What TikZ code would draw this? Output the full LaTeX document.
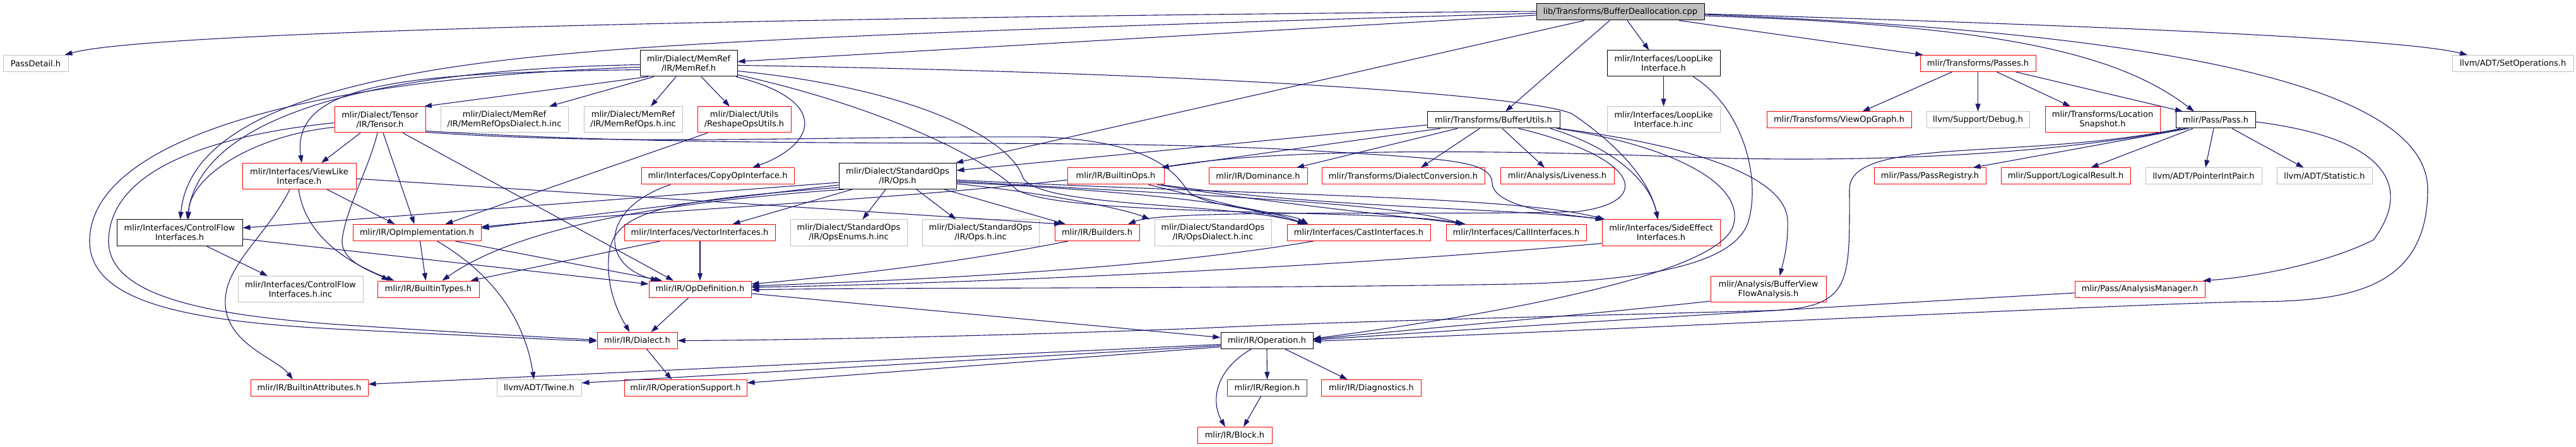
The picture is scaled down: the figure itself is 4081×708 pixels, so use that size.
\documentclass[tikz,border=0pt]{standalone}
\usepackage{fontspec}
\newfontfamily\djv{DejaVu Sans}
\usetikzlibrary{arrows.meta}
\definecolor{eblue}{HTML}{191970}
\definecolor{nred}{HTML}{FF0000}
\definecolor{ngrey}{HTML}{BFBFBF}
\begin{document}
\begin{tikzpicture}[x=1pt,y=-1pt,
  nb/.style={draw, line width=1pt, fill=white, inner xsep=2pt, inner ysep=0pt, align=center,
             font={\djv\fontsize{13pt}{15pt}\selectfont}, minimum height=26pt},
  two/.style={minimum height=41pt},
  rn/.style={nb, draw=nred},
  gn/.style={nb, draw=ngrey},
  kn/.style={nb, draw=black},
  rootn/.style={nb, draw=black, fill=ngrey},
  dep/.style={draw=eblue, line width=1.1pt, -{Triangle[length=12pt,width=8pt]}}
]
\useasboundingbox (0,0) rectangle (4081,708);

% row 0
\node[rootn, minimum width=266pt] (root) at (2567,19) {lib/Transforms/BufferDeallocation.cpp};
% row 1
\node[gn, minimum width=103pt] (passdetail) at (56.5,100.5) {PassDetail.h};
\node[kn, two, minimum width=154pt] (memref) at (1091,100.5) {mlir/Dialect/MemRef\\/IR/MemRef.h};
\node[kn, two, minimum width=179pt] (looplike) at (2635.5,100.5) {mlir/Interfaces/LoopLike\\Interface.h};
\node[rn, minimum width=183pt] (passes) at (3133.5,100.5) {mlir/Transforms/Passes.h};
\node[gn, minimum width=192pt] (setops) at (3981,100.5) {llvm/ADT/SetOperations.h};
% row 2
\node[rn, two, minimum width=144pt] (tensor) at (602,189.5) {mlir/Dialect/Tensor\\/IR/Tensor.h};
\node[gn, two, minimum width=202pt] (memrefdialinc) at (799,189.5) {mlir/Dialect/MemRef\\/IR/MemRefOpsDialect.h.inc};
\node[gn, two, minimum width=156pt] (memrefopsinc) at (1003,189.5) {mlir/Dialect/MemRef\\/IR/MemRefOps.h.inc};
\node[rn, two, minimum width=148pt] (reshape) at (1179,189.5) {mlir/Dialect/Utils\\/ReshapeOpsUtils.h};
\node[kn, minimum width=210pt] (bufferutils) at (2366,190) {mlir/Transforms/BufferUtils.h};
\node[gn, two, minimum width=179pt] (looplikeinc) at (2635.5,189.5) {mlir/Interfaces/LoopLike\\Interface.h.inc};
\node[rn, minimum width=229pt] (viewopgraph) at (2913.5,190) {mlir/Transforms/ViewOpGraph.h};
\node[gn, minimum width=163pt] (debug) at (3133.5,190) {llvm/Support/Debug.h};
\node[rn, two, minimum width=182pt] (locsnap) at (3331,189.5) {mlir/Transforms/Location\\Snapshot.h};
\node[kn, minimum width=126pt] (pass) at (3510,190) {mlir/Pass/Pass.h};
% row 3
\node[rn, two, minimum width=180pt] (viewlike) at (474,279) {mlir/Interfaces/ViewLike\\Interface.h};
\node[rn, minimum width=242pt] (copyop) at (1137,279) {mlir/Interfaces/CopyOpInterface.h};
\node[kn, two, minimum width=186pt] (ops) at (1422,279) {mlir/Dialect/StandardOps\\/IR/Ops.h};
\node[rn, minimum width=153pt] (builtinops) at (1767.5,279) {mlir/IR/BuiltinOps.h};
\node[rn, minimum width=156pt] (dominance) at (1993,279) {mlir/IR/Dominance.h};
\node[rn, minimum width=258pt] (dialconv) at (2223,279) {mlir/Transforms/DialectConversion.h};
\node[rn, minimum width=180pt] (liveness) at (2467,279) {mlir/Analysis/Liveness.h};
\node[rn, minimum width=177pt] (passreg) at (3057.5,279) {mlir/Pass/PassRegistry.h};
\node[rn, minimum width=205pt] (logical) at (3272.5,279) {mlir/Support/LogicalResult.h};
\node[gn, minimum width=184pt] (pip) at (3491,279) {llvm/ADT/PointerIntPair.h};
\node[gn, minimum width=151pt] (statistic) at (3682.5,279) {llvm/ADT/Statistic.h};
% row 4
\node[kn, two, minimum width=199pt] (cfi) at (284.5,368.5) {mlir/Interfaces/ControlFlow\\Interfaces.h};
\node[rn, minimum width=203pt] (opimpl) at (660.5,368.5) {mlir/IR/OpImplementation.h};
\node[rn, minimum width=239pt] (vector) at (1108.5,368.5) {mlir/Interfaces/VectorInterfaces.h};
\node[gn, two, minimum width=185pt] (opsenums) at (1344.5,368.5) {mlir/Dialect/StandardOps\\/IR/OpsEnums.h.inc};
\node[gn, two, minimum width=185pt] (opsinc) at (1553.5,368.5) {mlir/Dialect/StandardOps\\/IR/Ops.h.inc};
\node[rn, minimum width=134pt] (builders) at (1738,368.5) {mlir/IR/Builders.h};
\node[gn, two, minimum width=185pt] (opsdialinc) at (1921.5,368.5) {mlir/Dialect/StandardOps\\/IR/OpsDialect.h.inc};
\node[rn, minimum width=227pt] (cast) at (2152.5,368.5) {mlir/Interfaces/CastInterfaces.h};
\node[rn, minimum width=222pt] (call) at (2402,368.5) {mlir/Interfaces/CallInterfaces.h};
\node[rn, two, minimum width=187pt] (sideeffect) at (2631.5,368.5) {mlir/Interfaces/SideEffect\\Interfaces.h};
% row 5
\node[gn, two, minimum width=198pt] (cfiinc) at (476,458) {mlir/Interfaces/ControlFlow\\Interfaces.h.inc};
\node[rn, minimum width=161pt] (builtintypes) at (678.5,458) {mlir/IR/BuiltinTypes.h};
\node[rn, minimum width=162pt] (opdef) at (1109,458) {mlir/IR/OpDefinition.h};
\node[rn, two, minimum width=183pt] (bvfa) at (2801.5,458) {mlir/Analysis/BufferView\\FlowAnalysis.h};
\node[rn, minimum width=206pt] (analysismgr) at (3390,458) {mlir/Pass/AnalysisManager.h};
% row 6
\node[rn, minimum width=127pt] (dialect) at (1009.5,539.5) {mlir/IR/Dialect.h};
\node[kn, minimum width=146pt] (operation) at (2007,539.5) {mlir/IR/Operation.h};
% row 7
\node[rn, minimum width=186pt] (builtinattr) at (490,614.5) {mlir/IR/BuiltinAttributes.h};
\node[gn, minimum width=134pt] (twine) at (854,614.5) {llvm/ADT/Twine.h};
\node[rn, minimum width=194pt] (opsupport) at (1086,614.5) {mlir/IR/OperationSupport.h};
\node[nb, draw=black!75, minimum width=126pt] (region) at (2007.5,614.5) {mlir/IR/Region.h};
\node[rn, minimum width=158pt] (diagnostics) at (2172.5,614.5) {mlir/IR/Diagnostics.h};
% row 8
\node[rn, minimum width=118pt] (block) at (1956,689.5) {mlir/IR/Block.h};

% ---- edges from root
\draw[dep] ([yshift=1pt]root.west) .. controls (1500,25) and (250,45) .. ([xshift=46pt]passdetail.north);
\draw[dep] ([yshift=-5pt]root.west) -- ([yshift=3pt]memref.east);
\draw[dep] ([yshift=-2pt]root.west) .. controls (1600,45) and (1150,62) .. (900,85) .. controls (500,120) and (300,200) .. ([xshift=1pt]cfi.north);
\draw[dep] ([xshift=-57pt]root.south) -- ([xshift=92pt]ops.north);
\draw[dep] ([xshift=-17pt]root.south) -- ([xshift=19pt]bufferutils.north);
\draw[dep] ([xshift=11pt]root.south) -- ([xshift=-23pt]looplike.north);
\draw[dep] ([xshift=93pt]root.south) -- ([xshift=-87pt]passes.north);
\draw[dep] ([yshift=-6pt]root.east) .. controls (3150,40) and (3350,80) .. ([xshift=-34pt]pass.north);
\draw[dep] ([yshift=-3pt]root.east) .. controls (3300,40) and (3800,60) .. ([xshift=-72pt]setops.north);
\draw[dep] ([yshift=-4pt]root.east) .. controls (3400,50) and (3846,130) .. (3846,300) .. controls (3846,470) and (3700,478) .. (3550,478) .. controls (3300,485) and (2500,525) .. ([yshift=-1pt]operation.east);

% ---- MemRef.h
\draw[dep] ([xshift=-64pt]memref.south) -- ([xshift=70pt]tensor.north);
\draw[dep] ([xshift=-55pt]memref.south) -- ([xshift=71pt]memrefdialinc.north);
\draw[dep] ([xshift=-20pt]memref.south) -- ([xshift=28pt]memrefopsinc.north);
\draw[dep] ([xshift=20pt]memref.south) -- ([xshift=-23pt]reshape.north);
\draw[dep] ([xshift=75pt]memref.south) .. controls (1320,160) and (1290,230) .. ([xshift=55pt]copyop.north);
\draw[dep] ([yshift=-10pt]memref.west) .. controls (650,115) and (460,130) .. ([xshift=4pt]viewlike.north);
\draw[dep] ([yshift=-2pt]memref.west) .. controls (600,110) and (320,180) .. ([xshift=12pt]cfi.north);
\draw[dep] ([yshift=-6pt]memref.west) .. controls (450,125) and (145,230) .. (142,380) .. controls (140,480) and (300,510) .. (550,522) .. controls (750,532) and (880,538) .. ([yshift=-1pt]dialect.west);
\draw[dep] ([yshift=-3pt]memref.east) .. controls (1900,115) and (2420,150) .. (2490,180) .. controls (2535,210) and (2610,270) .. ([xshift=-5pt]sideeffect.north);
\draw[dep] ([yshift=-12pt]memref.east) .. controls (1450,140) and (1600,220) .. (1620,280) .. controls (1640,330) and (1950,320) .. ([xshift=-84pt]cast.north);
\draw[dep] ([yshift=-18pt]memref.east) .. controls (1400,170) and (1560,250) .. (1610,300) .. controls (1680,345) and (2200,330) .. ([xshift=-84pt]call.north);

% ---- Tensor.h
\draw[dep] ([xshift=-31pt]tensor.south) -- ([xshift=35pt]viewlike.north);
\draw[dep] ([xshift=-4pt]tensor.south) .. controls (585,265) and (548,330) .. (542,380) .. controls (540,415) and (590,430) .. ([xshift=-62pt]builtintypes.north);
\draw[dep] ([xshift=5pt]tensor.south) -- ([xshift=-4pt]opimpl.north);
\draw[dep] ([xshift=36pt]tensor.south) -- ([xshift=-42pt]opdef.north);
\draw[dep] ([yshift=-12pt]tensor.west) .. controls (400,215) and (300,280) .. ([xshift=14pt]cfi.north);
\draw[dep] ([yshift=-5pt]tensor.west) .. controls (330,215) and (175,270) .. (172,380) .. controls (170,470) and (330,500) .. (550,515) .. controls (750,528) and (880,535) .. ([yshift=1pt]dialect.west);
\draw[dep] ([yshift=-20pt]tensor.east) .. controls (1000,232) and (1300,215) .. (1657,217) .. controls (1820,225) and (1860,270) .. (1880,300) .. controls (1900,330) and (2040,335) .. ([xshift=-80pt]cast.north);
\draw[dep] ([yshift=-18pt]tensor.east) .. controls (1200,240) and (1700,215) .. (2100,240) .. controls (2300,252) and (2362,255) .. (2364,290) .. controls (2366,330) and (2480,340) .. ([xshift=-89pt]sideeffect.north);

% ---- ViewLikeInterface.h
\draw[dep] ([xshift=-15pt]viewlike.south) .. controls (420,380) and (340,430) .. (360,500) .. controls (375,550) and (440,570) .. ([xshift=-26pt]builtinattr.north);
\draw[dep] ([xshift=-1pt]viewlike.south) .. controls (485,380) and (560,420) .. ([xshift=-54pt]builtintypes.north);
\draw[dep] ([xshift=44pt]viewlike.south) -- ([xshift=-35pt]opimpl.north);
\draw[dep] ([yshift=-4pt]viewlike.east) -- ([xshift=-56pt]builders.north);

% ---- CopyOpInterface.h, ReshapeOpsUtils.h
\draw[dep] ([xshift=-75pt]copyop.south) .. controls (950,330) and (950,420) .. ([xshift=-66pt]opdef.north);
\draw[dep] ([xshift=-58pt]reshape.south) -- ([xshift=45pt]opimpl.north);

% ---- StandardOps/IR/Ops.h
\draw[dep] ([yshift=-10pt]ops.west) -- ([yshift=7.5pt]cfi.east);
\draw[dep] ([yshift=-14pt]ops.west) -- ([yshift=7pt]opimpl.east);
\draw[dep] ([xshift=-72pt]ops.south) -- ([xshift=52pt]vector.north);
\draw[dep] ([yshift=-18pt]ops.west) .. controls (1050,318) and (975,335) .. (965,400) .. controls (958,460) and (985,505) .. ([xshift=-12pt]dialect.north);
\draw[dep] ([xshift=-85pt]ops.south) .. controls (1050,320) and (820,360) .. ([xshift=22pt]builtintypes.north);
\draw[dep] ([xshift=74pt]ops.south) -- ([xshift=-50pt]builders.north);
\draw[dep] ([xshift=-19pt]ops.south) -- ([xshift=22pt]opsenums.north);
\draw[dep] ([xshift=30pt]ops.south) -- ([xshift=-39pt]opsinc.north);
\draw[dep] ([yshift=-12pt]ops.east) .. controls (1650,305) and (1780,330) .. ([xshift=-100pt]opsdialinc.north);
\draw[dep] ([yshift=-10pt]ops.east) .. controls (1750,300) and (1980,320) .. ([xshift=-85pt]cast.north);
\draw[dep] ([yshift=-8pt]ops.east) .. controls (1900,310) and (2200,320) .. ([xshift=-84pt]call.north);
\draw[dep] ([yshift=-6pt]ops.east) .. controls (2000,310) and (2400,310) .. ([xshift=-89pt]sideeffect.north);

% ---- BuiltinOps.h
\draw[dep] ([yshift=-6pt]builtinops.west) .. controls (1400,318) and (1000,335) .. ([yshift=9pt]opimpl.east);
\draw[dep] ([xshift=52pt]builtinops.south) -- ([xshift=-80pt]cast.north);
\draw[dep] ([xshift=66pt]builtinops.south) .. controls (2000,320) and (2200,340) .. ([xshift=-80pt]call.north);
\draw[dep] ([xshift=72pt]builtinops.south) .. controls (2100,330) and (2400,330) .. ([xshift=-92pt]sideeffect.north);

% ---- BufferUtils.h
\draw[dep] ([yshift=-8pt]bufferutils.west) -- ([yshift=9pt]ops.east);
\draw[dep] ([xshift=-84pt]bufferutils.south) -- ([xshift=72pt]builtinops.north);
\draw[dep] ([xshift=-57pt]bufferutils.south) -- ([xshift=61pt]dominance.north);
\draw[dep] ([xshift=-22pt]bufferutils.south) -- ([xshift=28pt]dialconv.north);
\draw[dep] ([xshift=14pt]bufferutils.south) -- ([xshift=-20pt]liveness.north);
\draw[dep] ([xshift=40pt]bufferutils.south) .. controls (2600,250) and (2620,320) .. (2500,335) .. controls (2300,342) and (1850,330) .. ([xshift=49pt]builders.north);
\draw[dep] ([xshift=100pt]bufferutils.south) .. controls (2640,228) and (2770,290) .. (2745,360) .. controls (2720,420) and (2500,480) .. ([yshift=3pt]operation.east);
\draw[dep] ([xshift=104pt]bufferutils.south) .. controls (2640,225) and (2830,270) .. (2832,350) .. controls (2833,390) and (2825,415) .. ([xshift=18pt]bvfa.north);
\draw[dep] ([xshift=90pt]bufferutils.south) .. controls (2560,235) and (2615,290) .. ([xshift=-5pt]sideeffect.north);

% ---- LoopLikeInterface.h
\draw[dep] (looplike.south) -- (looplikeinc.north);
\draw[dep] ([xshift=47pt]looplike.south) .. controls (2760,170) and (2790,280) .. (2770,350) .. controls (2750,420) and (2600,445) .. (2400,450) .. controls (1900,458) and (1400,455) .. ([yshift=-1pt]opdef.east);

% ---- Passes.h
\draw[dep] ([xshift=-41pt]passes.south) -- ([xshift=37pt]viewopgraph.north);
\draw[dep] (passes.south) -- (debug.north);
\draw[dep] ([xshift=30pt]passes.south) -- ([xshift=-51pt]locsnap.north);
\draw[dep] ([xshift=60pt]passes.south) -- ([xshift=-52pt]pass.north);

% ---- Pass.h
\draw[dep] ([xshift=-43pt]pass.south) -- ([xshift=68pt]passreg.north);
\draw[dep] ([xshift=-36pt]pass.south) -- ([xshift=40pt]logical.north);
\draw[dep] ([xshift=-3pt]pass.south) -- ([xshift=3pt]pip.north);
\draw[dep] ([xshift=26pt]pass.south) -- ([xshift=-33pt]statistic.north);
\draw[dep] ([yshift=-3pt]pass.east) .. controls (3790,220) and (3820,300) .. (3760,380) .. controls (3680,420) and (3560,440) .. ([xshift=100pt]analysismgr.north);
\draw[dep] ([xshift=-48pt]pass.south) .. controls (3250,245) and (2950,260) .. (2650,248) .. controls (2300,235) and (2000,238) .. ([xshift=72pt]builtinops.north);
\draw[dep] ([xshift=-55pt]pass.south) .. controls (3200,255) and (2930,215) .. (2930,300) .. controls (2930,450) and (2935,488) .. (2800,492) .. controls (2400,503) and (2100,510) .. (1900,520) .. controls (1500,535) and (1200,539) .. (dialect.east);

% ---- AnalysisManager.h, BufferViewFlowAnalysis.h
\draw[dep] ([yshift=-6pt]analysismgr.west) .. controls (3000,480) and (2500,510) .. ([yshift=1pt]operation.east);
\draw[dep] ([yshift=2pt]bvfa.south west) .. controls (2500,500) and (2200,525) .. ([yshift=2pt]operation.east);

% ---- ControlFlowInterfaces.h
\draw[dep] ([xshift=42pt]cfi.south) -- ([xshift=-52pt]cfiinc.north);
\draw[dep] ([yshift=-10pt]cfi.east) -- ([yshift=8pt]opdef.west);

% ---- OpImplementation.h, VectorInterfaces.h
\draw[dep] ([xshift=61pt]opimpl.south) -- ([xshift=-60pt]opdef.north);
\draw[dep] ([xshift=5pt]opimpl.south) -- ([xshift=-4pt]builtintypes.north);
\draw[dep] ([xshift=32pt]opimpl.south) .. controls (775,430) and (830,500) .. ([xshift=-8pt]twine.north);
\draw[dep] ([xshift=0.5pt]vector.south) -- (opdef.north);
\draw[dep] ([xshift=-63pt]vector.south) -- ([xshift=67pt]builtintypes.north);

% ---- Builders, CastInterfaces, SideEffectInterfaces -> OpDefinition
\draw[dep] ([xshift=-46pt]builders.south) .. controls (1500,420) and (1300,440) .. ([yshift=8pt]opdef.east);
\draw[dep] ([xshift=-72pt]cast.south) .. controls (1800,430) and (1400,445) .. ([yshift=5pt]opdef.east);
\draw[dep] ([yshift=-17pt]sideeffect.west) .. controls (2100,425) and (1500,450) .. ([yshift=3pt]opdef.east);

% ---- OpDefinition.h, Dialect.h
\draw[dep] ([yshift=-7pt]opdef.east) -- ([yshift=5pt]operation.west);
\draw[dep] ([xshift=-18pt]opdef.south) -- ([xshift=22pt]dialect.north);
\draw[dep] ([xshift=15pt]dialect.south) -- ([xshift=-22pt]opsupport.north);

% ---- Operation.h
\draw[dep] ([yshift=-6pt]operation.west) -- ([yshift=6pt]builtinattr.east);
\draw[dep] ([yshift=-8pt]operation.west) -- ([yshift=8pt]twine.east);
\draw[dep] ([yshift=-10pt]operation.west) -- ([yshift=8pt]opsupport.east);
\draw[dep] ([xshift=-25pt]operation.south) .. controls (1920,590) and (1920,640) .. ([xshift=-15pt]block.north);
\draw[dep] (operation.south) -- (region.north);
\draw[dep] ([xshift=29pt]operation.south) -- ([xshift=-38pt]diagnostics.north);
\draw[dep] ([xshift=-10pt]region.south) -- ([xshift=14pt]block.north);
\end{tikzpicture}
\end{document}
